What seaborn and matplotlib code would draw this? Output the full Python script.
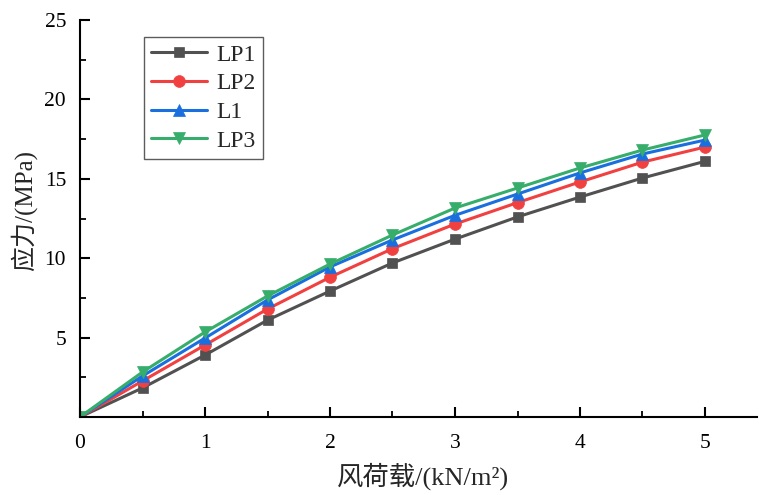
import matplotlib
matplotlib.use("Agg")
import matplotlib.pyplot as plt
import seaborn as sns
import pandas as pd
from matplotlib.ticker import MultipleLocator

# wind load (kN/m^2)
load = [0, 0.5, 1, 1.5, 2, 2.5, 3, 3.5, 4, 4.5, 5]
# stress (MPa) for each case
lp1 = [0, 1.83, 3.90, 6.10, 7.93, 9.70, 11.20, 12.60, 13.85, 15.05, 16.10]
lp2 = [0, 2.27, 4.53, 6.80, 8.80, 10.60, 12.15, 13.50, 14.80, 16.05, 17.00]
l1 = [0, 2.58, 4.97, 7.37, 9.45, 11.15, 12.70, 14.04, 15.37, 16.56, 17.44]
lp3 = [0, 2.83, 5.35, 7.62, 9.63, 11.46, 13.16, 14.42, 15.68, 16.81, 17.76]

series_names = ["LP1", "LP2", "L1", "LP3"]
series_vals = [lp1, lp2, l1, lp3]
colors = ["#515151", "#F14040", "#1A6FDF", "#37AD6B"]
markers = ["s", "o", "^", "v"]
marker_sizes = [7.5, 8.5, 8.5, 8.5]

sns.set_theme(style="ticks")
fam = ["Liberation Serif", "Noto Sans CJK SC"]
plt.rcParams["font.family"] = fam

df = pd.concat(
    [pd.DataFrame({"load": load, "stress": v, "case": n}) for n, v in zip(series_names, series_vals)],
    ignore_index=True,
)

fig = plt.figure(figsize=(7.59, 4.95), dpi=100)
ax = fig.add_axes([80 / 759, 78 / 495, 677 / 759, 397 / 495])

for name, c, m, ms in zip(series_names, colors, markers, marker_sizes):
    sub = df[df["case"] == name]
    sns.lineplot(
        data=sub, x="load", y="stress", ax=ax, color=c, marker=m,
        markersize=ms, markeredgecolor=c, markeredgewidth=0.5,
        linewidth=2.2, label=name,
    )

ax.set_xlim(0, 677 / 125)
ax.set_ylim(0, 25)
ax.xaxis.set_major_locator(MultipleLocator(1))
ax.xaxis.set_minor_locator(MultipleLocator(0.5))
ax.yaxis.set_major_locator(MultipleLocator(5))
ax.yaxis.set_minor_locator(MultipleLocator(2.5))
ax.set_yticks([5, 10, 15, 20, 25])
ax.set_xticks([0, 1, 2, 3, 4, 5])

for s in ["top", "right"]:
    ax.spines[s].set_visible(False)
for s in ["left", "bottom"]:
    ax.spines[s].set_color("black")
    ax.spines[s].set_linewidth(1.5)

ax.tick_params(which="major", direction="in", length=7, width=1.5, labelsize=15.5, colors="black")
ax.tick_params(axis="x", which="major", pad=12)
ax.tick_params(axis="y", which="major", pad=10)
ax.tick_params(which="minor", direction="in", length=4, width=1.3, colors="black")

ax.set_xlabel("风荷载/(kN/m²)", fontsize=19, family=fam)
ax.set_ylabel("应力/(MPa)", fontsize=18, family=fam)
ax.xaxis.set_label_coords(0.507, -0.115)
ax.yaxis.set_label_coords(-0.063, 0.52)

leg = ax.legend(
    loc="upper left", bbox_to_anchor=(0.095, 0.957), fontsize=17,
    frameon=True, fancybox=False, edgecolor="#333333", handlelength=2.35,
    borderpad=0.3, labelspacing=0.3, handletextpad=0.4, borderaxespad=0,
)
leg.get_frame().set_linewidth(1.0)

fig.savefig("out.png", dpi=100)
